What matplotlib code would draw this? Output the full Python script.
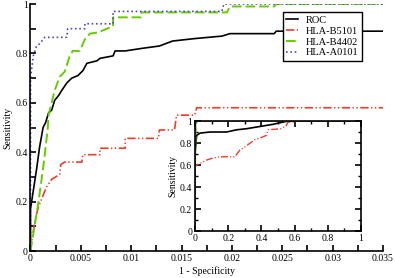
import matplotlib
matplotlib.use('Agg')
import matplotlib.pyplot as plt
from matplotlib.ticker import MultipleLocator, FuncFormatter

plt.rcParams['font.family'] = ['Liberation Serif', 'DejaVu Serif']
plt.rcParams['font.size'] = 7

# main plot data (1 - specificity, sensitivity)
roc_x = [0, 0, 0.0003, 0.0006, 0.0009, 0.00125, 0.0015, 0.0018, 0.0021, 0.0024, 0.0028, 0.0031,
         0.0036, 0.0041, 0.0047, 0.0052, 0.0056, 0.0066, 0.0069, 0.0082, 0.0084, 0.0094, 0.011,
         0.0128, 0.0141, 0.0163, 0.019, 0.0198, 0.0242, 0.0244, 0.035]
roc_y = [0, 0.17, 0.25, 0.33, 0.42, 0.5, 0.52, 0.56, 0.57, 0.61, 0.63, 0.65,
         0.68, 0.70, 0.71, 0.73, 0.76, 0.77, 0.78, 0.79, 0.81, 0.81, 0.82,
         0.83, 0.85, 0.86, 0.87, 0.88, 0.88, 0.89, 0.89]

b5101_x = [0, 0, 0.0003, 0.00045, 0.0008, 0.0013, 0.0016, 0.0021, 0.0029, 0.003, 0.0034, 0.0051,
           0.0052, 0.0069, 0.0069, 0.0094, 0.0094, 0.0127, 0.0128, 0.0143, 0.0145, 0.0163,
           0.0165, 0.035]
b5101_y = [0, 0.01, 0.085, 0.125, 0.18, 0.23, 0.26, 0.29, 0.31, 0.35, 0.36, 0.36,
           0.39, 0.39, 0.416, 0.416, 0.456, 0.456, 0.49, 0.49, 0.55, 0.55,
           0.58, 0.58]

b4402_x = [0, 0.0002, 0.0008, 0.0013, 0.0017, 0.0018, 0.0024, 0.0029, 0.0034, 0.0039, 0.0042,
           0.0049, 0.0054, 0.0059, 0.0067, 0.0082, 0.0082, 0.011, 0.011, 0.0195, 0.0198,
           0.0242, 0.0244, 0.035]
b4402_y = [0, 0.05, 0.2, 0.35, 0.49, 0.55, 0.65, 0.705, 0.726, 0.79, 0.81,
           0.81, 0.857, 0.88, 0.885, 0.91, 0.946, 0.946, 0.966, 0.966, 0.99,
           0.99, 1.0, 1.0]

a0101_x = [0, 0, 0.00028, 0.0006, 0.00094, 0.0014, 0.0036, 0.0037, 0.0054, 0.0054, 0.0082,
           0.0082, 0.019, 0.0192, 0.035]
a0101_y = [0, 0.7, 0.79, 0.83, 0.84, 0.865, 0.865, 0.90, 0.90, 0.92, 0.92,
           0.97, 0.97, 1.0, 1.0]

# inset data (full range)
in_roc_x = [0, 0, 0.01, 0.03, 0.09, 0.19, 0.25, 0.31, 0.39, 0.47, 0.53, 0.56, 1.0]
in_roc_y = [0, 0.71, 0.87, 0.89, 0.90, 0.90, 0.92, 0.93, 0.95, 0.97, 0.99, 1.0, 1.0]

in_b5101_x = [0, 0, 0.01, 0.03, 0.07, 0.10, 0.15, 0.24, 0.27, 0.31, 0.36, 0.40, 0.43, 0.44,
              0.52, 0.55, 0.56, 0.60, 0.60, 1.0]
in_b5101_y = [0, 0.58, 0.60, 0.615, 0.645, 0.66, 0.675, 0.675, 0.735, 0.775, 0.83, 0.85, 0.87, 0.92,
              0.93, 0.96, 0.99, 0.99, 1.0, 1.0]

in_b4402_x = [0, 0.002, 0.006, 0.012, 1.0]
in_b4402_y = [0, 0.6, 0.95, 1.0, 1.0]

in_a0101_x = [0, 0.001, 0.005, 0.01, 1.0]
in_a0101_y = [0, 0.85, 0.97, 1.0, 1.0]

red = '#f03c2a'
green = '#66cc00'
blue = '#4a4ac0'
dashdotdot = (0, (5, 1.5, 0.8, 1.5, 0.8, 1.5))

fmt = FuncFormatter(lambda v, p: '%g' % round(v, 4))

fig = plt.figure(figsize=(3.95, 2.78), dpi=100)
ax = fig.add_axes([0.0772, 0.0971, 0.8924, 0.8885])

ax.plot(roc_x, roc_y, color='black', lw=1.2, label='ROC')
ax.plot(b5101_x, b5101_y, color=red, lw=1.2, ls=dashdotdot, label='HLA-B5101')
ax.plot(b4402_x, b4402_y, color=green, lw=1.4, ls=(0, (5, 2)), label='HLA-B4402')
ax.plot(a0101_x, a0101_y, color=blue, lw=1.2, ls=(0, (1, 1.6)), label='HLA-A0101')

ax.set_xlim(0, 0.035)
ax.set_ylim(0, 1)
ax.spines['top'].set_visible(False)
ax.spines['right'].set_visible(False)
ax.spines['left'].set_linewidth(1.2)
ax.spines['bottom'].set_linewidth(1.2)
ax.xaxis.set_major_locator(MultipleLocator(0.005))
ax.xaxis.set_minor_locator(MultipleLocator(0.0025))
ax.yaxis.set_major_locator(MultipleLocator(0.2))
ax.yaxis.set_minor_locator(MultipleLocator(0.1))
ax.xaxis.set_major_formatter(fmt)
ax.yaxis.set_major_formatter(fmt)
ax.tick_params(which='both', direction='in', width=1.2, length=4, pad=2, labelsize=7)
ax.set_xlabel('1 - Specificity', fontsize=7, labelpad=2.5)
ax.set_ylabel('Sensitivity', fontsize=7, labelpad=2)

leg = ax.legend(loc='upper right', bbox_to_anchor=(0.94, 0.966), borderaxespad=0,
                fancybox=False, edgecolor='black', framealpha=1, fontsize=7.5,
                handlelength=1.1, handletextpad=0.8, labelspacing=0.15, borderpad=0.3)
leg.get_frame().set_linewidth(1.0)

# inset
ins = fig.add_axes([0.4937, 0.169, 0.4203, 0.3957])
ins.plot(in_roc_x, in_roc_y, color='black', lw=1.2)
ins.plot(in_b5101_x, in_b5101_y, color=red, lw=1.0, ls=dashdotdot)
ins.plot(in_b4402_x, in_b4402_y, color=green, lw=1.0, ls=(0, (5, 2)))
ins.plot(in_a0101_x, in_a0101_y, color=blue, lw=1.0, ls=(0, (1, 1.6)))
ins.set_xlim(0, 1)
ins.set_ylim(0, 1)
for s in ins.spines.values():
    s.set_linewidth(1.2)
ins.xaxis.set_major_locator(MultipleLocator(0.2))
ins.xaxis.set_minor_locator(MultipleLocator(0.1))
ins.yaxis.set_major_locator(MultipleLocator(0.2))
ins.yaxis.set_minor_locator(MultipleLocator(0.1))
ins.xaxis.set_major_formatter(fmt)
ins.yaxis.set_major_formatter(fmt)
ins.tick_params(which='major', direction='in', width=1.2, length=4, pad=2, labelsize=7,
                top=True, right=True)
ins.tick_params(which='minor', direction='in', width=1.0, length=2.5, top=True, right=True)
ins.set_ylabel('Sensitivity', fontsize=7, labelpad=2)

fig.savefig('out.png', dpi=100)
